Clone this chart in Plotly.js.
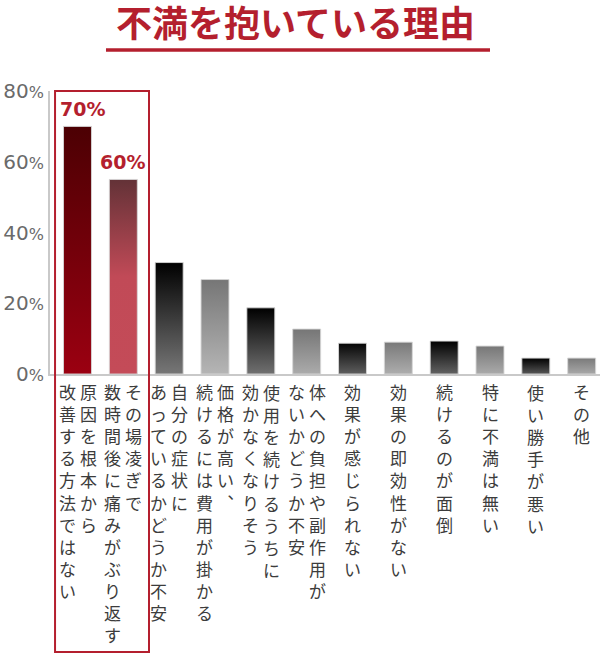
<!DOCTYPE html>
<html>
<head>
<meta charset="utf-8">
<script src="https://cdn.plot.ly/plotly-3.0.1.min.js"></script>
<style>
  html, body { margin: 0; padding: 0; background: #fff; }
  #chart { width: 600px; height: 654px; }
</style>
</head>
<body>
<div id="chart"></div>
<script>
// 不満を抱いている理由 — bar chart, labels set vertically under each bar.

const categories = [
    "原因を根本から改善する方法ではない",
    "その場凌ぎで数時間後に痛みがぶり返す",
    "自分の症状にあっているかどうか不安",
    "価格が高い、続けるには費用が掛かる",
    "使用を続けるうちに効かなくなりそう",
    "体への負担や副作用がないかどうか不安",
    "効果が感じられない",
    "効果の即効性がない",
    "続けるのが面倒",
    "特に不満は無い",
    "使い勝手が悪い",
    "その他",
];
// vertical columns, read right to left
const labelColumns = [
    ["原因を根本から", "改善する方法ではない"],
    ["その場凌ぎで", "数時間後に痛みがぶり返す"],
    ["自分の症状に", "あっているかどうか不安"],
    ["価格が高い︑", "続けるには費用が掛かる"],
    ["使用を続けるうちに", "効かなくなりそう"],
    ["体への負担や副作用が", "ないかどうか不安"],
    ["効果が感じられない"],
    ["効果の即効性がない"],
    ["続けるのが面倒"],
    ["特に不満は無い"],
    ["使い勝手が悪い"],
    ["その他"],
];
const values = [70, 55, 31.5, 26.7, 18.7, 12.7, 8.7, 9.0, 9.3, 7.9, 4.5, 4.5];
const valueLabels = ["70%", "60%"];
const tickVals = [0, 20, 40, 60, 80];
const tickNums = ["0", "20", "40", "60", "80"];

// gradient stops per bar, top to bottom
const barGradients = [
    ["#4c0003", "#9b0011"],
    ["#633237", "#c14a57", "#c44b58"],
    ["#000000", "#777777"],
    ["#767676", "#b5b5b5"],
    ["#000000", "#707070"],
    ["#767676", "#ababab"],
    ["#050505", "#5e5e5e"],
    ["#797979", "#adadad"],
    ["#000000", "#626262"],
    ["#777777", "#aaaaaa"],
    ["#000000", "#575757"],
    ["#7a7a7a", "#a8a8a8"],
];

const RED = "#b41f2e";
// Liberation Sans first keeps the line boxes tight; the kana fall back to Noto CJK
const JP = "'Liberation Sans', 'Noto Sans CJK JP', sans-serif";

const trace = {
    type: "bar",
    x: categories,
    y: values,
    marker: {
        color: "#777777",
        line: { color: "rgba(215,215,215,0.9)", width: 1 },
    },
    hoverinfo: "skip",
};

const annotations = [];
valueLabels.forEach((t, i) => {
    annotations.push({
        x: categories[i], y: values[i], xref: "x", yref: "y",
        text: t, showarrow: false,
        xanchor: "center", yanchor: "bottom",
        xshift: i === 0 ? 5 : -1, yshift: 4,
        font: { family: "'DejaVu Sans', sans-serif", size: 19, weight: "bold", color: RED },
    });
});
labelColumns.forEach((cols, i) => {
    cols.forEach((col, k) => {
        const shift = cols.length === 1 ? 0 : (k === 0 ? 10.5 : -10.5);
        annotations.push({
            x: categories[i], y: 0, xref: "x", yref: "paper",
            text: Array.from(col).join("<br>"),
            showarrow: false,
            xanchor: "center", yanchor: "top",
            xshift: shift, yshift: -8,
            font: { family: JP, size: 17, color: "#3c3c3c" },
        });
    });
});

const layout = {
    width: 600,
    height: 654,
    paper_bgcolor: "#ffffff",
    plot_bgcolor: "#ffffff",
    margin: { t: 91, b: 280, l: 50, r: 0, pad: 0 },
    title: {
        text: "不満を抱いている理由",
        font: { family: JP, size: 36, weight: "bold", color: RED },
        x: 0.4925, xref: "container", xanchor: "center",
        y: 1 - 24 / 654, yref: "container", yanchor: "middle",
    },
    xaxis: {
        range: [-0.6, 11.4],
        showticklabels: false,
        ticks: "",
        showgrid: false,
        zeroline: false,
        showline: true,
        linecolor: "#c9c9c9",
        linewidth: 2,
        fixedrange: true,
    },
    yaxis: {
        range: [0, 80],
        tickvals: tickVals,
        ticktext: tickNums.map(n => n + '<span style="font-size:16px">%</span>'),
        tickfont: { family: "'DejaVu Sans', sans-serif", size: 20, color: "#6a6a6a" },
        ticks: "",
        showgrid: false,
        zeroline: false,
        showline: true,
        linecolor: "#c9c9c9",
        linewidth: 2,
        fixedrange: true,
    },
    bargap: 0.39,
    showlegend: false,
    annotations,
    shapes: [
        // title underline
        { type: "line", xref: "paper", yref: "paper",
          x0: 0.1018, x1: 0.8, y0: 1.1449, y1: 1.1449,
          line: { color: RED, width: 3.5 } },
        // highlight box round the first two reasons
        { type: "rect", xref: "x", yref: "paper",
          x0: -0.49, x1: 1.56, y0: 1, y1: -0.982,
          line: { color: RED, width: 2 }, fillcolor: "rgba(0,0,0,0)" },
    ],
};

// Plotly has no gradient fill for bars, so add svg gradients to the drawn bars
function applyGradients(gd) {
    const ns = "http://www.w3.org/2000/svg";
    const svg = gd.querySelector("svg.main-svg");
    let defs = svg.querySelector("defs");
    if (!defs) {
        defs = document.createElementNS(ns, "defs");
        svg.insertBefore(defs, svg.firstChild);
    }
    gd.querySelectorAll(".barlayer .point path").forEach((p, i) => {
        const stops = barGradients[i];
        if (!stops) return;
        const g = document.createElementNS(ns, "linearGradient");
        g.setAttribute("id", "barfill" + i);
        g.setAttribute("x1", "0"); g.setAttribute("y1", "0");
        g.setAttribute("x2", "0"); g.setAttribute("y2", "1");
        stops.forEach((c, j) => {
            const s = document.createElementNS(ns, "stop");
            s.setAttribute("offset", (j / (stops.length - 1)).toString());
            s.setAttribute("stop-color", c);
            g.appendChild(s);
        });
        defs.appendChild(g);
        p.style.fill = `url(#barfill${i})`;
    });
}

const div = document.getElementById("chart");
Plotly.newPlot(div, [trace], layout, { displayModeBar: false, staticPlot: true })
    .then(applyGradients);
</script>
</body>
</html>
